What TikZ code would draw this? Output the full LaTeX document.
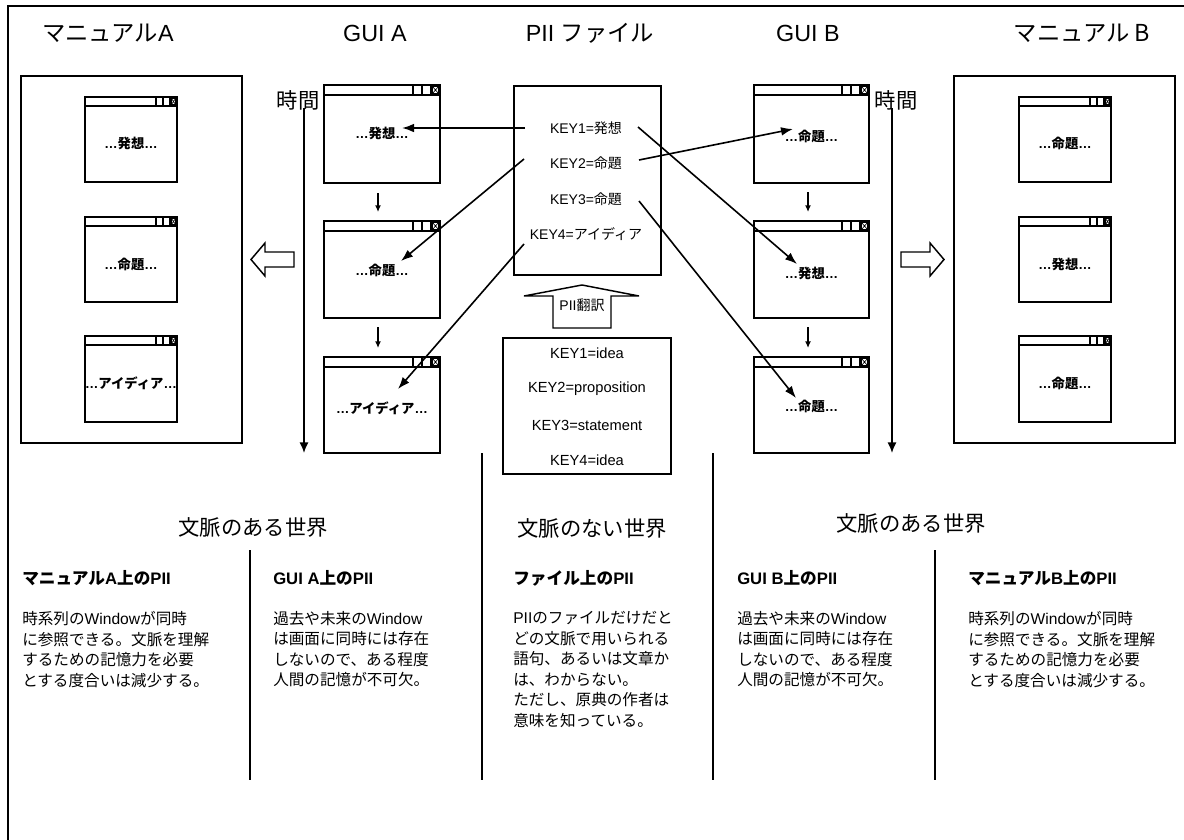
\documentclass[tikz,border=0pt]{standalone}
\usepackage{fontspec}
\setmainfont{Liberation Sans}
\newfontfamily\cjkf{Noto Sans CJK JP}
\newfontfamily\latf{Liberation Sans}
\usetikzlibrary{arrows.meta,calc,fit}
\XeTeXinterchartokenstate=1
\newXeTeXintercharclass\cjkcls
\newcount\mycc
\mycc="3000
\loop
  \XeTeXcharclass\mycc=\cjkcls
  \advance\mycc by 1
\ifnum\mycc<"A000 \repeat
\XeTeXinterchartoks 0 \cjkcls = {\cjkf}
\XeTeXinterchartoks 4095 \cjkcls = {\cjkf}
\XeTeXinterchartoks \cjkcls 0 = {\latf}

\tikzset{
  box/.style={draw, line width=1.4pt, inner sep=0pt, outer sep=0pt},
  winl/.style={line width=1.3pt},
  ttl/.style={font=\fontsize{17.5}{20}\selectfont, inner sep=0pt},
  tim/.style={font=\fontsize{16}{18}\selectfont, inner sep=0pt},
  sec/.style={font=\fontsize{16}{19}\selectfont, inner sep=0pt},
  wtext/.style={font=\bfseries\fontsize{10}{11}\selectfont, inner sep=0pt},
  keyt/.style={font=\fontsize{10.5}{12}\selectfont, inner sep=0pt},
  keye/.style={font=\fontsize{11}{13}\selectfont, inner sep=0pt},
  hd/.style={font=\bfseries\fontsize{12.5}{14}\selectfont, anchor=west, inner sep=0pt},
  body/.style={font=\fontsize{11.7}{15.4}\selectfont, anchor=north west, align=left, inner sep=0pt},
  link/.style={line width=1.2pt, -{Latex[length=9pt,width=6.5pt]}},
  tick/.style={line width=1.2pt, -{Latex[length=5pt,width=4.5pt]}},
  timeax/.style={line width=1.4pt, -{Latex[length=8pt,width=7pt]}},
  hollow/.style={draw, line width=1.1pt, fill=white},
  sepl/.style={line width=1pt}
}

% #1 name, #2 x1, #3 y1, #4 x2, #5 y2, #6 bar height, #7 icon width, #8 text y, #9 text
\newcommand\mywin[9]{%
  \node[box, fit={(#2,#3) (#4,#5)}] (#1) {};
  \draw[winl] (#2,#3+#6) -- (#4,#3+#6)
    (#4-3*#7,#3) -- (#4-3*#7,#3+#6)
    (#4-2*#7,#3) -- (#4-2*#7,#3+#6)
    (#4-#7,#3) -- (#4-#7,#3+#6);
  \draw[line width=0.5pt] (#4-#7+1.5,#3+1.5) rectangle (#4-1.5,#3+#6-1.5)
    (#4-#7+1.5,#3+1.5) -- (#4-1.5,#3+#6-1.5)
    (#4-#7+1.5,#3+#6-1.5) -- (#4-1.5,#3+1.5);
  \node[wtext] (#1t) at ({(#2+#4)/2},#8) {#9};
}

\begin{document}
\begin{tikzpicture}[x=0.75pt,y=-0.75pt]
\useasboundingbox (0,0) rectangle (1184,839);
\clip (0,0) rectangle (1184,839);

% outer frame
\draw[line width=1.4pt] (8,860) -- (8,6) -- (1200,6);

% titles
\node[ttl] (tManA) at (108,33) {マニュアルA};
\node[ttl] (tGuiA) at (375,33) {GUI A};
\node[ttl] (tPII) at (590,33) {PII ファイル};
\node[ttl] (tGuiB) at (808,33) {GUI B};
\node[ttl] (tManB) at (1082,33) {マニュアル B};

% manual boxes
\node[box, fit={(21,76) (242,443)}] (manA) {};
\node[box, fit={(954,76) (1175,443)}] (manB) {};

% windows
\mywin{ma1}{85}{97}{177}{182}{9}{7}{143}{…発想…}
\mywin{ma2}{85}{217}{177}{302}{9}{7}{264}{…命題…}
\mywin{ma3}{85}{336}{177}{422}{9}{7}{383}{…アイディア…}
\mywin{mb1}{1019}{97}{1111}{182}{9}{7}{143}{…命題…}
\mywin{mb2}{1019}{217}{1111}{302}{9}{7}{264}{…発想…}
\mywin{mb3}{1019}{336}{1111}{422}{9}{7}{383}{…命題…}
\mywin{ga1}{324}{85}{440}{183}{10}{9}{133}{…発想…}
\mywin{ga2}{324}{221}{440}{318}{10}{9}{270}{…命題…}
\mywin{ga3}{324}{357}{440}{453}{10}{9}{408}{…アイディア…}
\mywin{gb1}{754}{85}{869}{183}{10}{9}{136}{…命題…}
\mywin{gb2}{754}{221}{869}{318}{10}{9}{273}{…発想…}
\mywin{gb3}{754}{357}{869}{453}{10}{9}{406}{…命題…}

% small arrows between GUI windows
\draw[tick] ($(ga1.south)+(-4,10)$) -- ($(ga2.north)+(-4,-9)$);
\draw[tick] ($(ga2.south)+(-4,9)$) -- ($(ga3.north)+(-4,-9)$);
\draw[tick] ($(gb1.south)+(-3.5,9)$) -- ($(gb2.north)+(-3.5,-9)$);
\draw[tick] ($(gb2.south)+(-3.5,9)$) -- ($(gb3.north)+(-3.5,-9)$);

% time axes
\node[tim] (timeA) at (298,100) {時間};
\node[tim] (timeB) at (896,100) {時間};
\coordinate (tA0) at (304,108);
\coordinate (tA1) at (304,453);
\coordinate (tB0) at (892,108);
\coordinate (tB1) at (892,453);
\draw[timeax] (tA0) -- (tA1);
\draw[timeax] (tB0) -- (tB1);

% hollow side arrows
\draw[hollow] (294,252) -- (265,252) -- (265,243) -- (251,259.5) -- (265,276) -- (265,267) -- (294,267) -- cycle;
\draw[hollow] (901,252) -- (930,252) -- (930,243) -- (944,259.5) -- (930,276) -- (930,267) -- (901,267) -- cycle;

% PII file
\node[box, fit={(514,86) (661,275)}] (pii) {};
\node[keyt] (k1) at (586,128) {KEY1=発想};
\node[keyt] (k2) at (586,163) {KEY2=命題};
\node[keyt] (k3) at (586,199) {KEY3=命題};
\node[keyt] (k4) at (586,234) {KEY4=アイディア};

% translation arrow
\draw[hollow] (553,328) -- (553,296) -- (524,296) -- (582,285) -- (639,296) -- (611,296) -- (611,328) -- cycle;
\node[keyt] (trans) at (582,305) {PII翻訳};

% English key box
\node[box, fit={(503,338) (671,474)}] (eng) {};
\node[keye] (e1) at (587,353) {KEY1=idea};
\node[keye] (e2) at (587,389) {KEY2=proposition};
\node[keye] (e3) at (587,425) {KEY3=statement};
\node[keye] (e4) at (587,460) {KEY4=idea};

% connectors
\coordinate (k1l) at (525,128);
\coordinate (k1r) at (638,127);
\coordinate (k2l) at (524,159);
\coordinate (k2r) at (639,160);
\coordinate (k3r) at (639,201);
\coordinate (k4l) at (524,244);
\coordinate (ta1) at (402,128);
\coordinate (ta2) at (401,261);
\coordinate (ta3) at (398,389);
\coordinate (tb1) at (793,129);
\coordinate (tb2) at (797,264);
\coordinate (tb3) at (796,398);
\draw[link] (k1l) -- (ta1);
\draw[link] (k1r) -- (tb2);
\draw[link] (k2r) -- (tb1);
\draw[link] (k2l) -- (ta2);
\draw[link] (k3r) -- (tb3);
\draw[link] (k4l) -- (ta3);

% separators
\coordinate (s1a) at (250,550); \coordinate (s1b) at (250,780);
\coordinate (s2a) at (482,453); \coordinate (s2b) at (482,780);
\coordinate (s3a) at (713,453); \coordinate (s3b) at (713,780);
\coordinate (s4a) at (935,550); \coordinate (s4b) at (935,780);
\draw[sepl] (s1a) -- (s1b);
\draw[sepl] (s2a) -- (s2b);
\draw[sepl] (s3a) -- (s3b);
\draw[sepl] (s4a) -- (s4b);

% section titles
\node[sec] (w1) at (253,527) {文脈のある世界};
\node[sec] (w2) at (592,528) {文脈のない世界};
\node[sec] (w3) at (911,523) {文脈のある世界};

% headings
\node[hd] (h1) at (22,578) {マニュアルA上のPII};
\node[hd] (h2) at (273,578) {GUI A上のPII};
\node[hd] (h3) at (513,578) {ファイル上のPII};
\node[hd] (h4) at (737,578) {GUI B上のPII};
\node[hd] (h5) at (968,578) {マニュアルB上のPII};

% bodies
\node[body] (b1) at (22,611) {時系列のWindowが同時\\に参照できる。文脈を理解\\するための記憶力を必要\\とする度合いは減少する。};
\node[body] (b2) at (273,611) {過去や未来のWindow\\は画面に同時には存在\\しないので、ある程度\\人間の記憶が不可欠。};
\node[body] (b3) at (513,611) {PIIのファイルだけだと\\どの文脈で用いられる\\語句、あるいは文章か\\は、わからない。\\ただし、原典の作者は\\意味を知っている。};
\node[body] (b4) at (737,611) {過去や未来のWindow\\は画面に同時には存在\\しないので、ある程度\\人間の記憶が不可欠。};
\node[body] (b5) at (968,611) {時系列のWindowが同時\\に参照できる。文脈を理解\\するための記憶力を必要\\とする度合いは減少する。};
\end{tikzpicture}
\end{document}
